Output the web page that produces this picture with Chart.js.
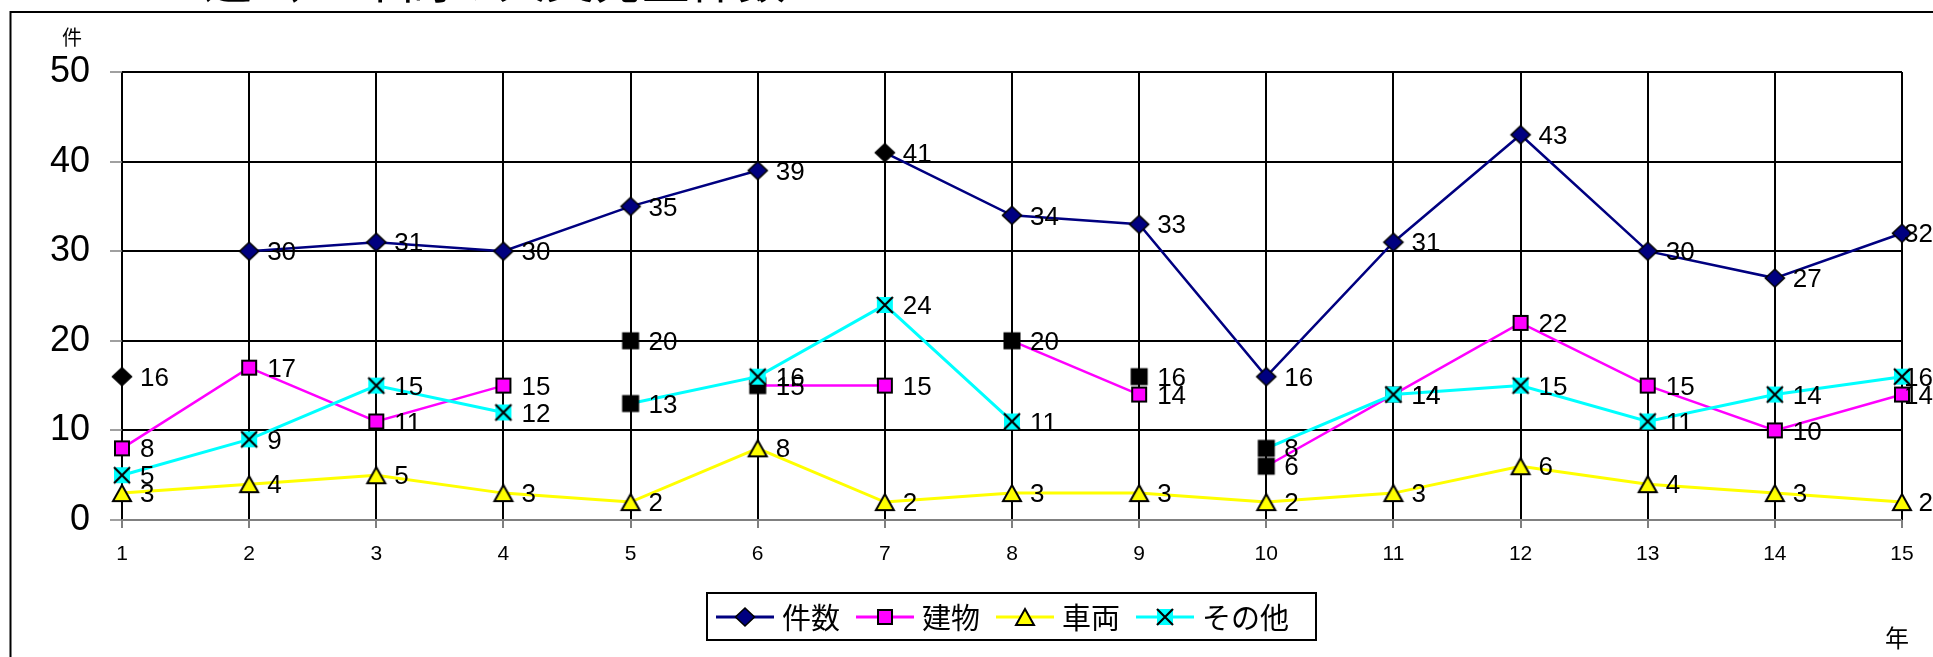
<!DOCTYPE html>
<html>
<head>
<meta charset="utf-8">
<script src="https://cdn.jsdelivr.net/npm/chart.js@4"></script>
<style>
  html, body { margin: 0; padding: 0; background: #fff; }
  canvas { display: block; }
</style>
</head>
<body>
<canvas id="ch" width="1933" height="657"></canvas>
<script>
// 年ごとの火災件数
const years = ['1','2','3','4','5','6','7','8','9','10','11','12','13','14','15'];
const kensu    = [16, 30, 31, 30, 35, 39, 41, 34, 33, 16, 31, 43, 30, 27, 32];
const tatemono = [ 8, 17, 11, 15, 20, 15, 15, 20, 14,  6, 14, 22, 15, 10, 14];
const sharyo   = [ 3,  4,  5,  3,  2,  8,  2,  3,  3,  2,  3,  6,  4,  3,  2];
const sonota   = [ 5,  9, 15, 12, 13, 16, 24, 11, 16,  8, 14, 15, 11, 14, 16];
const yTicks   = [0, 10, 20, 30, 40, 50];

// segments left undrawn (index of the segment's first point) and points shown as black markers
const kensuGaps = [0, 5],        kensuBlack = [0, 6];
const tatemonoGaps = [3, 4, 6, 8], tatemonoBlack = [4, 5, 7, 9];
const sharyoGaps = [],           sharyoBlack = [];
const sonotaGaps = [3, 7, 8],    sonotaBlack = [4, 8, 9];

const FONT = "'Liberation Sans', Arial, 'Noto Sans CJK JP', sans-serif";
const JP = "'Noto Sans CJK JP', 'Liberation Sans', sans-serif";

function marker(kind, fill){
  const c = document.createElement('canvas'); c.width = 24; c.height = 24;
  const g = c.getContext('2d'); const m = 12;
  g.fillStyle = fill; g.strokeStyle = '#000'; g.lineWidth = 1.6; g.lineJoin = 'miter';
  if (kind === 'diamond') {
    g.beginPath(); g.moveTo(m, m-9); g.lineTo(m+9.5, m); g.lineTo(m, m+9); g.lineTo(m-9.5, m); g.closePath();
    g.fill(); g.stroke();
  } else if (kind === 'square') {
    g.fillRect(m-8, m-8, 16, 16); g.lineWidth = 2; g.strokeRect(m-7, m-7, 14, 14);
  } else if (kind === 'triangle') {
    g.beginPath(); g.moveTo(m, m-8); g.lineTo(m+9, m+8); g.lineTo(m-9, m+8); g.closePath();
    g.fill(); g.lineWidth = 2; g.stroke();
  } else if (kind === 'cross') {
    g.fillRect(m-8, m-8, 16, 16);
    g.lineWidth = 2.2; g.beginPath();
    g.moveTo(m-8, m-8); g.lineTo(m+8, m+8); g.moveTo(m+8, m-8); g.lineTo(m-8, m+8); g.stroke();
  } else if (kind === 'block') {
    g.fillStyle = '#000'; g.fillRect(m-8.5, m-8.5, 17, 17);
  }
  return c;
}

const mk = {
  diamond: marker('diamond', '#000080'),
  blackDiamond: marker('diamond', '#000'),
  square: marker('square', '#FF00FF'),
  triangle: marker('triangle', '#FFFF00'),
  cross: marker('cross', '#00FFFF'),
  block: marker('block', '#000')
};

function mkSeries(label, data, color, width, style, blackStyle, gaps, blacks, order){
  return {
    label, data, order,
    borderColor: color, backgroundColor: color, borderWidth: width,
    tension: 0, fill: false,
    pointStyle: data.map((v, i) => blacks.includes(i) ? blackStyle : style),
    pointRadius: 10, pointHoverRadius: 10,
    segment: { borderColor: c => gaps.includes(c.p0DataIndex) ? 'rgba(0,0,0,0)' : color }
  };
}

const legendItems = [
  { text: '件数', color: '#000080', m: mk.diamond },
  { text: '建物', color: '#FF00FF', m: mk.square },
  { text: '車両', color: '#FFFF00', m: mk.triangle },
  { text: 'その他', color: '#00FFFF', m: mk.cross }
];

// frame, title and axis units
const frame = {
  id: 'frame',
  beforeDraw(chart){
    const ctx = chart.ctx;
    ctx.save();
    ctx.fillStyle = '#fff'; ctx.fillRect(0, 0, chart.width, chart.height);
    ctx.strokeStyle = '#000'; ctx.lineWidth = 2;
    ctx.strokeRect(10.5, 12, chart.width + 20, chart.height + 20);
    ctx.fillStyle = '#000';
    ctx.font = '48px ' + JP; ctx.textAlign = 'center'; ctx.textBaseline = 'alphabetic';
    ctx.fillText('過去15年間の火災発生件数', 495, -2);
    ctx.font = '20px ' + JP; ctx.textBaseline = 'middle';
    ctx.fillText('件', 72, 37);
    ctx.font = '24px ' + JP;
    ctx.fillText('年', 1897, 638);
    ctx.restore();
  },
  afterDraw(chart){
    const ctx = chart.ctx;
    ctx.save();
    ctx.font = '29px ' + JP; ctx.textBaseline = 'middle'; ctx.textAlign = 'left';
    const x0 = 707, y0 = 593, bw = 609, bh = 47, cy = 617;
    ctx.fillStyle = '#fff'; ctx.fillRect(x0, y0, bw, bh);
    ctx.strokeStyle = '#000'; ctx.lineWidth = 2; ctx.strokeRect(x0, y0, bw, bh);
    let x = 716;
    legendItems.forEach(it => {
      ctx.strokeStyle = it.color; ctx.lineWidth = 3;
      ctx.beginPath(); ctx.moveTo(x, cy); ctx.lineTo(x + 58, cy); ctx.stroke();
      ctx.drawImage(it.m, x + 29 - 12, cy - 12);
      ctx.fillStyle = '#000';
      ctx.fillText(it.text, x + 66, cy + 1);
      x += 66 + ctx.measureText(it.text).width + 16;
    });
    ctx.restore();
  }
};

// value labels right of each point
const valueLabels = {
  id: 'valueLabels',
  afterDatasetsDraw(chart){
    const ctx = chart.ctx;
    ctx.save();
    ctx.font = '26px ' + FONT; ctx.fillStyle = '#000';
    ctx.textAlign = 'left'; ctx.textBaseline = 'middle';
    chart.data.datasets.forEach((ds, di) => {
      const meta = chart.getDatasetMeta(di);
      meta.data.forEach((pt, i) => {
        const t = String(ds.data[i]);
        const w = ctx.measureText(t).width;
        let x = pt.x + 18;
        if (x + w > chart.width) x = chart.width - w;
        ctx.fillText(t, x, pt.y + 2);
      });
    });
    ctx.restore();
  }
};

new Chart(document.getElementById('ch').getContext('2d'), {
  type: 'line',
  data: {
    labels: years,
    datasets: [
      mkSeries('件数', kensu, '#000080', 2.5, mk.diamond, mk.blackDiamond, kensuGaps, kensuBlack, 0),
      mkSeries('建物', tatemono, '#FF00FF', 2.5, mk.square, mk.block, tatemonoGaps, tatemonoBlack, 2),
      mkSeries('車両', sharyo, '#FFFF00', 3, mk.triangle, mk.block, sharyoGaps, sharyoBlack, 3),
      mkSeries('その他', sonota, '#00FFFF', 3, mk.cross, mk.block, sonotaGaps, sonotaBlack, 1)
    ]
  },
  options: {
    responsive: false,
    animation: false,
    devicePixelRatio: 1,
    layout: { padding: { left: 0, right: 31, top: 72, bottom: 0 } },
    plugins: { legend: { display: false }, tooltip: { enabled: false } },
    scales: {
      x: {
        offset: false,
        afterFit: s => { s.height = 137; },
        grid: { color: '#000', lineWidth: 2, tickLength: 8, tickColor: '#555', tickWidth: 1.5 },
        border: { display: false },
        ticks: { color: '#000', font: { family: FONT, size: 21 }, padding: 14, autoSkip: false, maxRotation: 0 }
      },
      y: {
        min: 0, max: 50,
        afterFit: s => { s.width = 122; },
        afterBuildTicks: s => { s.ticks = yTicks.map(v => ({ value: v })); },
        grid: {
          color: c => c.tick && c.tick.value === 0 ? '#808080' : '#000',
          lineWidth: 2, tickLength: 12, tickColor: '#808080', tickWidth: 1.5
        },
        border: { display: false },
        ticks: { color: '#000', font: { family: FONT, size: 36 }, padding: 20 }
      }
    }
  },
  plugins: [frame, valueLabels]
});
</script>
</body>
</html>
